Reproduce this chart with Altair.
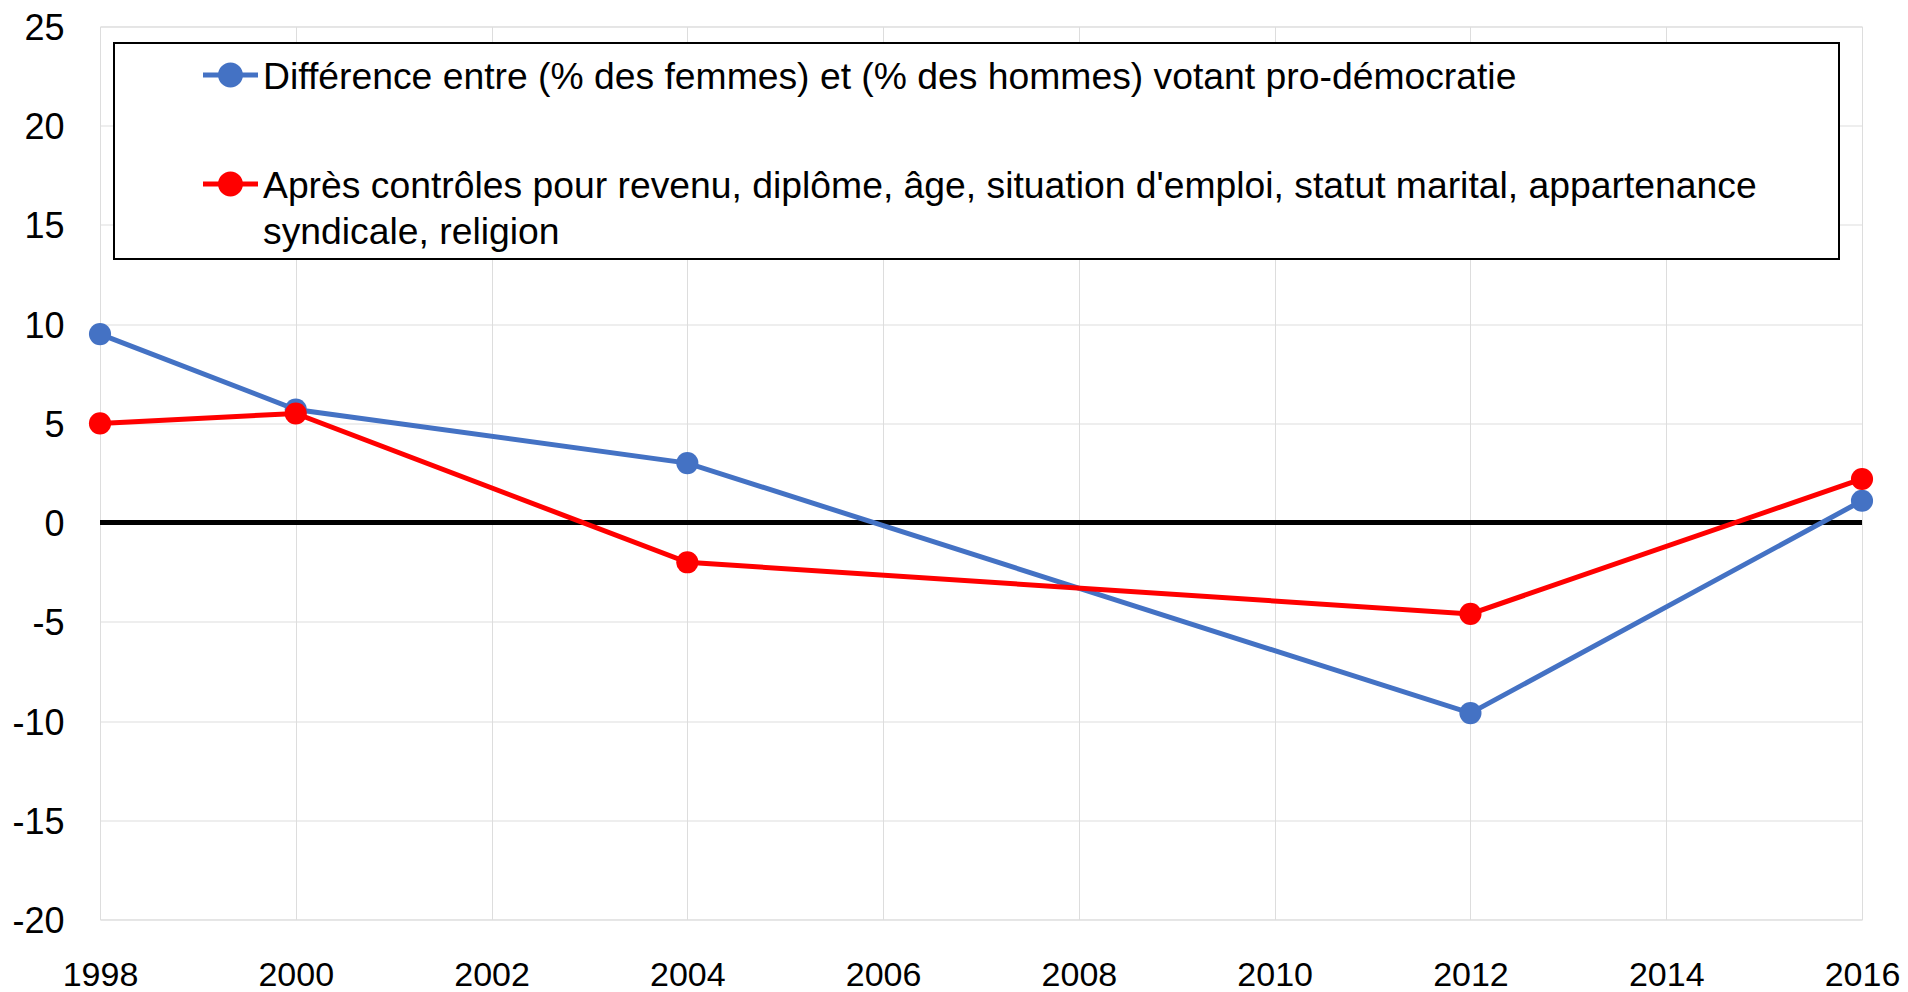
import json
import altair as alt
import pandas as pd

# ---- data ----
YEARS = [1998, 2000, 2004, 2012, 2016]
SERIES = [
    "Différence entre (% des femmes) et (% des hommes) votant pro-démocratie",
    "Après contrôles pour revenu, diplôme, âge, situation d'emploi, statut marital, appartenance syndicale, religion",
]
DIFF = [9.5, 5.7, 3.0, -9.6, 1.1]
CTRL = [5.0, 5.5, -2.0, -4.6, 2.2]
COLORS = ["#4472C4", "#FF0000"]
X_TICKS = list(range(1998, 2017, 2))
Y_TICKS = list(range(-20, 26, 5))
RED_LABEL_LINES = [
    "Après contrôles pour revenu, diplôme, âge, situation d'emploi, statut marital, appartenance",
    "syndicale, religion",
]

rows = []
for name, vals in zip(SERIES, [DIFF, CTRL]):
    for yr, v in zip(YEARS, vals):
        rows.append({"annee": yr, "valeur": v, "serie": name})
df = pd.DataFrame(rows)

W, H = 1762, 893
FONT = "Liberation Sans"

# legend symbol: line segment + dot (unit space, scaled by sqrt(size)/2)
d = 15.5 / 27.5
h = 2.5 / 27.5
c = 12.5 / 27.5
SYMBOL = (f"M-1,{d-h:.4f}H1V{d+h:.4f}H-1Z "
          f"M{c:.4f},{d:.4f}A{c:.4f},{c:.4f} 0 1,1 {-c:.4f},{d:.4f}"
          f"A{c:.4f},{c:.4f} 0 1,1 {c:.4f},{d:.4f}Z")

label_expr = "datum.label === %s ? %s : datum.label" % (
    json.dumps(SERIES[1], ensure_ascii=False),
    json.dumps(RED_LABEL_LINES, ensure_ascii=False),
)
hyphen_expr = "replace(datum.label, '\u2212', '-')"

x_enc = alt.X(
    "annee:Q",
    scale=alt.Scale(domain=[1998, 2016], nice=False, zero=False),
    axis=alt.Axis(values=X_TICKS, format="d", title=None, labelFontSize=34,
                  labelPadding=38.5, ticks=False, domain=False, labelFlush=False),
)
y_enc = alt.Y(
    "valeur:Q",
    scale=alt.Scale(domain=[-20, 25], nice=False, zero=False),
    axis=alt.Axis(values=Y_TICKS, title=None, labelFontSize=36,
                  labelPadding=36, labelOffset=2, ticks=False, domain=False,
                  labelExpr=hyphen_expr),
)
color_scale = alt.Scale(domain=SERIES, range=COLORS)

legend = alt.Legend(
    title=None, orient="none", legendX=103, legendY=5.5,
    symbolType=SYMBOL, symbolSize=3025, symbolStrokeWidth=0,
    labelFontSize=37.3, labelFont=FONT, labelColor="black", labelLimit=3000,
    labelBaseline="top", labelOffset=5, rowPadding=45, padding=0,
    labelExpr=label_expr,
)

base = alt.Chart(df)

box = alt.Chart(pd.DataFrame({"k": [0]})).mark_rect(
    fill="white", stroke="black", strokeWidth=2
).encode(x=alt.value(14), x2=alt.value(1739), y=alt.value(16.5), y2=alt.value(232.5))

zero = alt.Chart(pd.DataFrame({"zero": [0]})).mark_rule(
    color="black", strokeWidth=5
).encode(y=alt.Y("zero:Q", scale=alt.Scale(domain=[-20, 25], nice=False, zero=False)))

layers = [box, zero]
for name, col in zip(SERIES, COLORS):
    sub = base.transform_filter(alt.datum.serie == name)
    layers.append(sub.mark_line(color=col, strokeWidth=5).encode(x=x_enc, y=y_enc))
    layers.append(
        sub.mark_circle(size=490, opacity=1).encode(
            x=x_enc, y=y_enc,
            color=alt.Color("serie:N", scale=color_scale, legend=legend),
        )
    )

chart = alt.layer(*layers).properties(
    width=W, height=H,
    autosize=alt.AutoSizeParams(type="none"),
    padding={"left": 92, "top": 18.5, "right": 38, "bottom": 74},
).configure_view(
    stroke="black", strokeWidth=2
).configure_axis(
    gridColor="#d9d9d9", gridWidth=2, labelColor="black", labelFont=FONT,
).configure(
    style={"guide-label": {"lineHeight": 46}},
    background="white",
)

chart.save("out.html", embed_options={"renderer": "svg", "actions": False})
